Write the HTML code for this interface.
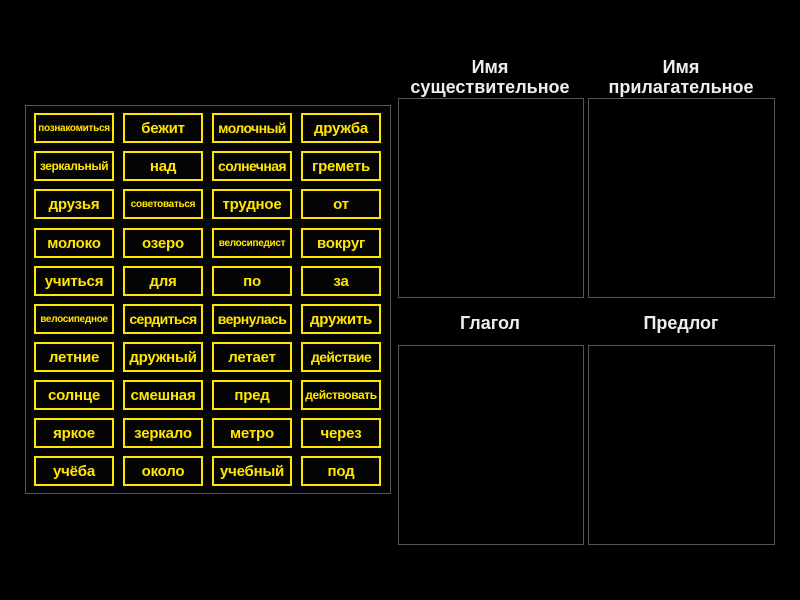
<!DOCTYPE html><html><head><meta charset="utf-8"><style>
body{margin:0;width:800px;height:600px;background:#000;position:relative;overflow:hidden;font-family:"Liberation Sans","DejaVu Sans",sans-serif}
.panel{position:absolute;left:25px;top:105px;width:364px;height:387px;border:1px solid #555;background:#050505}
.t{position:absolute;width:76px;height:26px;border:2px solid #ffe600;color:#ffe600;font-weight:bold;display:flex;align-items:center;justify-content:center;font-size:15px;white-space:nowrap;overflow:hidden;letter-spacing:-0.2px}
.s{font-size:10px;letter-spacing:-0.3px}.m{font-size:12px;letter-spacing:-0.4px}.n{font-size:14px;letter-spacing:-0.6px}
.b{position:absolute;border:1px solid #555;width:184px;height:198px}
.h{position:absolute;color:#eee;font-weight:bold;font-size:18px;text-align:center;width:200px;line-height:20px}
</style></head><body>
<div class="panel"></div>
<div id="g"></div>
<div class="b" style="left:398px;top:98px"></div>
<div class="b" style="left:588px;top:98px;width:185px"></div>
<div class="b" style="left:398px;top:345px"></div>
<div class="b" style="left:588px;top:345px;width:185px"></div>
<div class="h" style="left:390px;top:57px">Имя<br>существительное</div>
<div class="h" style="left:581px;top:57px">Имя<br>прилагательное</div>
<div class="h" style="left:390px;top:313px">Глагол</div>
<div class="h" style="left:581px;top:313px">Предлог</div>
<script>
var w=[["познакомиться","бежит","молочный","дружба"],["зеркальный","над","солнечная","греметь"],["друзья","советоваться","трудное","от"],["молоко","озеро","велосипедист","вокруг"],["учиться","для","по","за"],["велосипедное","сердиться","вернулась","дружить"],["летние","дружный","летает","действие"],["солнце","смешная","пред","действовать"],["яркое","зеркало","метро","через"],["учёба","около","учебный","под"]];
var xs=[34,123,212,301],ys=[113,151,189,228,266,304,342,380,418,456],h="";
for(var r=0;r<10;r++)for(var c=0;c<4;c++){var t=w[r][c],L=t.length,cl=L>=12?"s":L>=10?"m":L>=8?"n":"";h+='<div class="t '+cl+'" style="left:'+xs[c]+'px;top:'+ys[r]+'px">'+t+'</div>';}
document.getElementById("g").innerHTML=h;
</script>
</body></html>
